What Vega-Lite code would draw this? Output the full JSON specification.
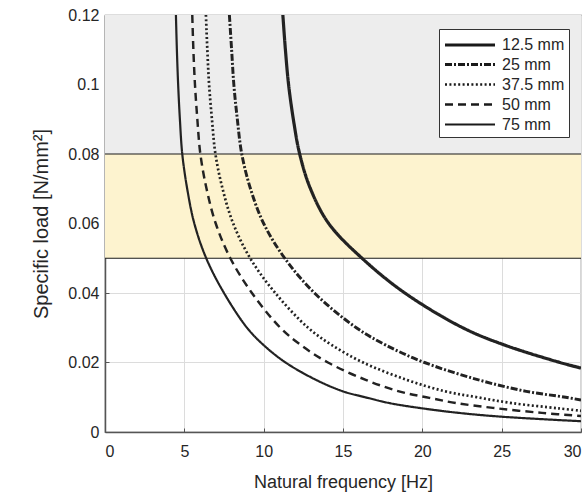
{
  "$schema": "https://vega.github.io/schema/vega-lite/v6.json",
  "autosize": {"type": "none"},
  "padding": {"left": 105, "top": 15, "right": 4, "bottom": 65},
  "width": 476,
  "height": 417,
  "background": "white",
  "config": {
    "font": "Liberation Sans",
    "view": {"stroke": "#777777", "strokeWidth": 1.2},
    "axis": {
      "labelFont": "Liberation Sans", "titleFont": "Liberation Sans",
      "labelFontSize": 16, "titleFontWeight": "normal",
      "labelColor": "#262626", "titleColor": "#262626",
      "domainColor": "#555555", "domainWidth": 1.5,
      "gridColor": "#dcdcdc", "gridWidth": 1,
      "tickColor": "#555555", "tickSize": -4, "tickWidth": 1,
      "zindex": 1
    }
  },
  "datasets": {
    "bands": [
      {"lo": 0.08, "hi": 0.12, "band": "grey"},
      {"lo": 0.05, "hi": 0.08, "band": "yellow"}
    ],
    "limits": [{"y": 0.08}, {"y": 0.05}],
    "curves": [
      {"series": "12.5 mm", "f": 11.21, "load": 0.12},
      {"series": "12.5 mm", "f": 11.37, "load": 0.11},
      {"series": "12.5 mm", "f": 11.57, "load": 0.10},
      {"series": "12.5 mm", "f": 11.87, "load": 0.09},
      {"series": "12.5 mm", "f": 12.27, "load": 0.08},
      {"series": "12.5 mm", "f": 12.95, "load": 0.07},
      {"series": "12.5 mm", "f": 14.1, "load": 0.06},
      {"series": "12.5 mm", "f": 16.2, "load": 0.05},
      {"series": "12.5 mm", "f": 18.9, "load": 0.04},
      {"series": "12.5 mm", "f": 22.55, "load": 0.03},
      {"series": "12.5 mm", "f": 25.2, "load": 0.025},
      {"series": "12.5 mm", "f": 28.68, "load": 0.02},
      {"series": "12.5 mm", "f": 30, "load": 0.0184},
      {"series": "25 mm", "f": 7.84, "load": 0.12},
      {"series": "25 mm", "f": 7.98, "load": 0.11},
      {"series": "25 mm", "f": 8.12, "load": 0.10},
      {"series": "25 mm", "f": 8.34, "load": 0.09},
      {"series": "25 mm", "f": 8.62, "load": 0.08},
      {"series": "25 mm", "f": 9.17, "load": 0.07},
      {"series": "25 mm", "f": 10.0, "load": 0.06},
      {"series": "25 mm", "f": 11.33, "load": 0.05},
      {"series": "25 mm", "f": 13.2, "load": 0.04},
      {"series": "25 mm", "f": 15.84, "load": 0.03},
      {"series": "25 mm", "f": 17.7, "load": 0.025},
      {"series": "25 mm", "f": 20.14, "load": 0.02},
      {"series": "25 mm", "f": 23.54, "load": 0.015},
      {"series": "25 mm", "f": 26.55, "load": 0.0117},
      {"series": "25 mm", "f": 29.03, "load": 0.01},
      {"series": "25 mm", "f": 30, "load": 0.0092},
      {"series": "37.5 mm", "f": 6.36, "load": 0.12},
      {"series": "37.5 mm", "f": 6.45, "load": 0.11},
      {"series": "37.5 mm", "f": 6.56, "load": 0.10},
      {"series": "37.5 mm", "f": 6.74, "load": 0.09},
      {"series": "37.5 mm", "f": 6.96, "load": 0.08},
      {"series": "37.5 mm", "f": 7.41, "load": 0.07},
      {"series": "37.5 mm", "f": 8.08, "load": 0.06},
      {"series": "37.5 mm", "f": 9.15, "load": 0.05},
      {"series": "37.5 mm", "f": 10.73, "load": 0.04},
      {"series": "37.5 mm", "f": 12.8, "load": 0.03},
      {"series": "37.5 mm", "f": 14.3, "load": 0.025},
      {"series": "37.5 mm", "f": 16.27, "load": 0.02},
      {"series": "37.5 mm", "f": 19.02, "load": 0.015},
      {"series": "37.5 mm", "f": 21.45, "load": 0.0117},
      {"series": "37.5 mm", "f": 23.45, "load": 0.01},
      {"series": "37.5 mm", "f": 25.67, "load": 0.0083},
      {"series": "37.5 mm", "f": 28.6, "load": 0.0068},
      {"series": "37.5 mm", "f": 30, "load": 0.0061},
      {"series": "50 mm", "f": 5.5, "load": 0.12},
      {"series": "50 mm", "f": 5.57, "load": 0.11},
      {"series": "50 mm", "f": 5.67, "load": 0.10},
      {"series": "50 mm", "f": 5.82, "load": 0.09},
      {"series": "50 mm", "f": 6.01, "load": 0.08},
      {"series": "50 mm", "f": 6.4, "load": 0.07},
      {"series": "50 mm", "f": 6.98, "load": 0.06},
      {"series": "50 mm", "f": 7.9, "load": 0.05},
      {"series": "50 mm", "f": 9.26, "load": 0.04},
      {"series": "50 mm", "f": 11.05, "load": 0.03},
      {"series": "50 mm", "f": 12.35, "load": 0.025},
      {"series": "50 mm", "f": 14.05, "load": 0.02},
      {"series": "50 mm", "f": 16.43, "load": 0.015},
      {"series": "50 mm", "f": 18.53, "load": 0.0117},
      {"series": "50 mm", "f": 20.25, "load": 0.01},
      {"series": "50 mm", "f": 22.17, "load": 0.0083},
      {"series": "50 mm", "f": 24.7, "load": 0.0068},
      {"series": "50 mm", "f": 27.54, "load": 0.0055},
      {"series": "50 mm", "f": 30, "load": 0.0046},
      {"series": "75 mm", "f": 4.47, "load": 0.12},
      {"series": "75 mm", "f": 4.53, "load": 0.11},
      {"series": "75 mm", "f": 4.61, "load": 0.10},
      {"series": "75 mm", "f": 4.72, "load": 0.09},
      {"series": "75 mm", "f": 4.87, "load": 0.08},
      {"series": "75 mm", "f": 5.18, "load": 0.07},
      {"series": "75 mm", "f": 5.63, "load": 0.06},
      {"series": "75 mm", "f": 6.38, "load": 0.05},
      {"series": "75 mm", "f": 7.5, "load": 0.04},
      {"series": "75 mm", "f": 8.95, "load": 0.03},
      {"series": "75 mm", "f": 10.0, "load": 0.025},
      {"series": "75 mm", "f": 11.38, "load": 0.02},
      {"series": "75 mm", "f": 13.3, "load": 0.015},
      {"series": "75 mm", "f": 15.0, "load": 0.0117},
      {"series": "75 mm", "f": 16.4, "load": 0.01},
      {"series": "75 mm", "f": 17.95, "load": 0.0083},
      {"series": "75 mm", "f": 20, "load": 0.0068},
      {"series": "75 mm", "f": 22.3, "load": 0.0055},
      {"series": "75 mm", "f": 25, "load": 0.0044},
      {"series": "75 mm", "f": 30, "load": 0.0031}
    ]
  },
  "layer": [
    {
      "data": {"name": "bands"},
      "mark": {"type": "rect"},
      "encoding": {
        "y": {"field": "lo", "type": "quantitative", "scale": {"domain": [0, 0.12], "nice": false}},
        "y2": {"field": "hi"},
        "color": {"field": "band", "type": "nominal", "scale": {"domain": ["grey", "yellow"], "range": ["#ededed", "#fdf3cf"]}, "legend": null}
      }
    },
    {
      "data": {"name": "limits"},
      "mark": {"type": "rule", "color": "#1a1a1a", "strokeWidth": 1.2},
      "encoding": {
        "y": {"field": "y", "type": "quantitative"}
      }
    },
    {
      "data": {"name": "curves"},
      "mark": {"type": "line", "interpolate": "catmull-rom", "clip": true, "color": "#222222"},
      "encoding": {
        "x": {
          "field": "f", "type": "quantitative",
          "scale": {"domain": [0, 30], "nice": false},
          "axis": {"values": [0, 5, 10, 15, 20, 25, 30], "title": "Natural frequency [Hz]", "titleFontSize": 18, "labelPadding": 15, "titlePadding": 14}
        },
        "y": {
          "field": "load", "type": "quantitative",
          "scale": {"domain": [0, 0.12], "nice": false},
          "axis": {"values": [0, 0.02, 0.04, 0.06, 0.08, 0.1, 0.12], "format": "~g", "title": "Specific load [N/mm²]", "titleFontSize": 20, "labelPadding": 10, "titlePadding": 16}
        },
        "detail": {"field": "series"},
        "strokeDash": {
          "field": "series", "type": "nominal",
          "sort": ["12.5 mm", "25 mm", "37.5 mm", "50 mm", "75 mm"],
          "scale": {"domain": ["12.5 mm", "25 mm", "37.5 mm", "50 mm", "75 mm"], "range": [[1, 0], [7, 2, 2, 2], [2, 2.4], [8, 5], [1, 0]]},
          "legend": {
            "title": null, "orient": "none", "legendX": 334, "legendY": 14,
            "symbolType": "M-1,0H4", "symbolSize": 400, "symbolStrokeColor": "#1a1a1a", "symbolFillColor": "transparent",
            "labelFontSize": 16, "labelColor": "#262626", "labelFont": "Liberation Sans",
            "strokeColor": "#333333", "fillColor": "white", "padding": 4, "rowPadding": 0, "labelOffset": 35
          }
        },
        "strokeWidth": {
          "field": "series", "type": "nominal",
          "scale": {"domain": ["12.5 mm", "25 mm", "37.5 mm", "50 mm", "75 mm"], "range": [3.2, 2.2, 2.2, 2.2, 1]},
          "legend": {
            "title": null, "orient": "none", "legendX": 334, "legendY": 14,
            "symbolType": "M-1,0H4", "symbolSize": 400, "symbolStrokeColor": "#1a1a1a", "symbolFillColor": "transparent",
            "labelFontSize": 16, "labelColor": "#262626", "labelFont": "Liberation Sans",
            "strokeColor": "#333333", "fillColor": "white", "padding": 4, "rowPadding": 0, "labelOffset": 35
          }
        }
      }
    }
  ]
}
